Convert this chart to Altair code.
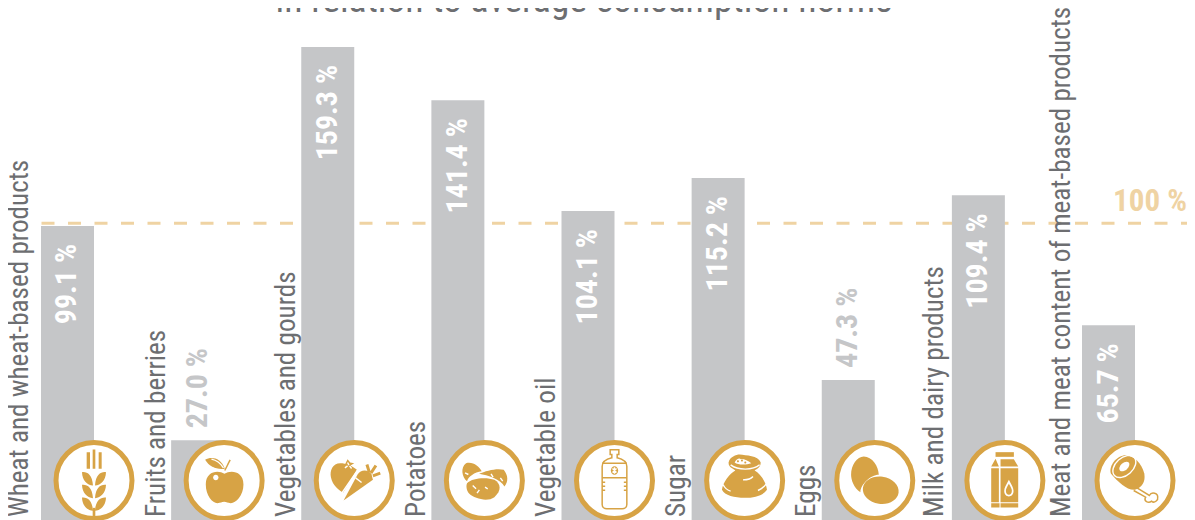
import re
import math
import altair as alt
import pandas as pd

# ---- data ----
CATEGORIES = ["Wheat and wheat-based products", "Fruits and berries", "Vegetables and gourds",
              "Potatoes", "Vegetable oil", "Sugar", "Eggs", "Milk and dairy products",
              "Meat and meat content of meat-based products"]
VALUES = [99.1, 27.0, 159.3, 141.4, 104.1, 115.2, 47.3, 109.4, 65.7]
TITLE = "in relation to average consumption norms"
NORM = 100
NORM_LABEL = "100 %"

GREY = "#c5c6c8"
TEXT = "#6d6e71"
GOLD = "#d7a345"
PALE = "#efd3a3"
FONT = "Roboto Condensed, Roboto"
W, H = 1179, 512

df = pd.DataFrame({"cat": CATEGORIES, "value": VALUES})
df["label"] = [f"{v:.1f} %" for v in VALUES]
ORDER = CATEGORIES

X = alt.X("cat:N", sort=ORDER, axis=None,
          scale=alt.Scale(range=[33, 1127], paddingInner=0.5927, paddingOuter=0))
X_EDGE = alt.X("cat:N", sort=ORDER, axis=None, bandPosition=1,
               scale=alt.Scale(range=[33, 1127], paddingInner=0.5927, paddingOuter=0))
Y_SCALE = alt.Scale(domain=[0, 172.4], range=[512.6, 0], nice=False)
Y = alt.Y("value:Q", axis=None, scale=Y_SCALE)


# ---- icon glyphs, written in 3x crop units and re-centred ----
def shift(path, cx, cy):
    def rep(m):
        return f"{float(m.group(1)) - cx:.1f},{float(m.group(2)) - cy:.1f}"
    return re.sub(r"(-?[\d.]+),(-?[\d.]+)", rep, path)


def ell(cx, cy, rx, ry, rot=0):
    k = 0.5523
    pts = [(rx, 0), (rx, k * ry), (k * rx, ry), (0, ry), (-k * rx, ry), (-rx, k * ry), (-rx, 0),
           (-rx, -k * ry), (-k * rx, -ry), (0, -ry), (k * rx, -ry), (rx, -k * ry), (rx, 0)]
    a = math.radians(rot)
    q = [(cx + x * math.cos(a) - y * math.sin(a), cy + x * math.sin(a) + y * math.cos(a)) for x, y in pts]
    s = f"M{q[0][0]:.1f},{q[0][1]:.1f}"
    for i in range(1, 13, 3):
        s += " C" + " ".join(f"{p[0]:.1f},{p[1]:.1f}" for p in q[i:i + 3])
    return s + " Z"


def rect(x1, y1, x2, y2):
    return f"M{x1},{y1} L{x2},{y1} L{x2},{y2} L{x1},{y2} Z"


def leaf_pair(dy):
    return (f"M247,{278+dy} C262,{276+dy} 278,{285+dy} 280,{318+dy} C262,{316+dy} 248,{303+dy} 247,{278+dy} Z "
            f"M319,{278+dy} C304,{276+dy} 288,{285+dy} 286,{318+dy} C304,{316+dy} 318,{303+dy} 319,{278+dy} Z")


F, FW, SW, SG, SGB = "fill", "white", "strokewhite", "strokegold", "strokegoldbold"
ICONS = [
    ((283, 303), [
        (F, rect(261, 218, 271, 268) + " " + rect(279, 210, 287, 268) + " " + rect(297, 218, 306, 268)),
        (F, leaf_pair(0) + " " + leaf_pair(38) + " " + leaf_pair(76)),
        (F, rect(279, 385, 287, 425)),
    ]),
    ((670, 300), [
        (F, "M671,280 C690,268 728,272 728,312 C728,345 705,368 690,368 C680,368 678,364 670,364 "
            "C662,364 660,368 650,368 C635,368 615,345 615,312 C615,272 652,268 671,280 Z"),
        (F, "M613,238 C630,228 660,230 672,265 C645,268 625,258 613,238 Z"),
        (SG, "M672,270 L688,238"),
        (FW, ell(645, 291, 8, 8)),
        (SW, "M632,236 C650,240 660,250 668,262"),
    ]),
    ((120, 120), [
        (F, "M78,68 C55,68 46,90 50,110 C55,135 75,150 87,156 L128,88 C115,76 95,68 78,68 Z"),
        (F, "M88,180 L130,102 C140,85 165,88 172,102 L176,118 Z"),
        (SGB, "M165,95 L158,72 M170,98 L185,75 M176,106 L198,98"),
        (SW, "M80,162 L136,80"),
        (SW, "M124,112 L142,126"),
        (F, "M100,56 L108,66 L120,68 L110,74 L108,92 L98,80 L84,84 L92,72 Z"),
        (SW, "M100,66 L104,74 M92,82 L100,76 M112,84 L106,76"),
    ]),
    ((120, 120), [
        (F, "M65,68 C85,62 105,78 112,92 C90,95 72,108 68,122 C52,110 48,80 65,68 Z"),
        (F, "M104,100 C125,90 160,82 178,88 C192,105 192,125 180,138 C170,118 130,104 104,100 Z"),
        (F, "M68,128 C85,110 130,110 150,118 C170,130 172,150 150,170 C130,185 90,175 75,160 C65,148 65,135 68,128 Z"),
        (SW, "M62,97 L72,102 M140,100 L146,110 M168,112 L175,122 M85,135 L95,145 M122,140 L130,145 M98,158 L105,148"),
    ]),
    ((120, 120), [
        (SG, "M107,28 L133,28 L133,42 L128,42 L128,52 C145,56 157,62 157,78 L157,192 C157,200 150,205 143,205 "
             "L97,205 C90,205 83,200 83,192 L83,78 C83,62 95,56 112,52 L112,42 L107,42 Z"),
        (SG, "M83,68 L157,68 M83,112 L157,112"),
        (F, ell(120, 90, 11, 13)),
        (SW, "M114,84 L126,96 M126,84 L114,96 M120,80 L120,100"),
        (SG, "M83,125 L92,125 M83,137 L92,137 M83,149 L92,149 M148,125 L157,125 M148,137 L157,137 M148,149 L157,149"),
    ]),
    ((120, 120), [
        (F, "M72,65 C75,50 95,42 105,42 C125,45 160,45 168,65 C170,82 150,88 150,90 C168,100 185,125 187,148 "
            "C175,165 150,172 120,172 C90,172 60,165 52,148 C55,125 75,100 92,90 C90,85 70,82 72,65 Z"),
        (SW, "M78,73 C100,90 145,90 165,73"),
        (FW, "M90,66 C95,55 105,52 108,56 C115,54 130,60 140,68 C125,74 100,74 90,66 Z"),
        (F, ell(100, 62, 3, 3) + " " + ell(112, 60, 3, 3) + " " + ell(122, 66, 3, 3)),
        (SW, "M115,118 C130,118 140,115 145,108 M55,132 C62,145 70,150 78,152 M160,150 C170,145 178,140 185,130"),
    ]),
    ((238, 297), [
        (F, "M205,225 C230,225 250,255 250,280 C225,280 195,310 195,332 C175,320 167,295 167,280 C167,250 185,225 205,225 Z"),
        (F, ell(256, 326, 54, 41, 8)),
    ]),
    ((628, 297), [
        (F, rect(600, 212, 655, 226)),
        (F, "M600,232 L610,255 L587,255 Z M615,233 L655,233 L668,255 L615,255 Z"),
        (F, rect(587, 260, 610, 362) + " " + rect(615, 260, 668, 362)),
        (F, rect(587, 365, 612, 378) + " " + rect(615, 365, 668, 378)),
        (FW, "M640,295 C632,310 626,320 626,328 C626,340 633,345 640,345 C647,345 654,340 654,328 C654,320 648,310 640,295 Z"),
        (F, "M640,307 C635,316 631,322 631,328 C631,336 635,340 640,340 C645,340 649,336 649,328 C649,322 645,316 640,307 Z"),
    ]),
    ((120, 120), [
        (FW, "M126,142 L163,165 C170,152 190,158 188,172 C190,178 178,190 170,182 C160,190 145,182 152,170 L116,150 Z"),
        (SG, "M126,142 L163,165 C170,152 190,158 188,172 C190,178 178,190 170,182 C160,190 145,182 152,170 L116,150"),
        (F, "M85,45 C110,40 140,65 148,100 C152,125 140,142 120,148 C95,150 70,125 48,100 C40,80 60,50 85,45 Z"),
        (SW, ell(88, 78, 40, 26, -42)),
        (FW, ell(88, 78, 18, 11, -42)),
    ]),
]

# ---- layers ----
layers = []

layers.append(alt.Chart(pd.DataFrame({"n": [NORM]})).mark_rule(
    color=PALE, strokeWidth=3, strokeDash=[13, 13.5]).encode(
    x=alt.value(33.5), x2=alt.value(1179), y=alt.Y("n:Q", axis=None, scale=Y_SCALE)))

layers.append(alt.Chart(df).mark_bar(color=GREY, opacity=1).encode(
    x=X, y=Y, y2=alt.value(H)))

# category labels: each sits a little to the left of its bar
for cats, dy in ((CATEGORIES[:1] + CATEGORIES[-1:], -39),
                 (CATEGORIES[7:8], -35.5),
                 (CATEGORIES[1:7], -33)):
    sub = df[df["cat"].isin(cats)]
    layers.append(alt.Chart(sub).mark_text(
        angle=270, align="left", baseline="alphabetic", font=FONT, fontSize=27.2, color=TEXT, dy=dy).encode(
        x=X, y=alt.value(509), text="cat:N"))

inside = df[df["value"] >= 60]
outside = df[df["value"] < 60]
layers.append(alt.Chart(inside).mark_text(
    angle=270, align="right", baseline="middle", font=FONT, fontSize=30, fontWeight="bold",
    color="white", dx=-18).encode(x=X, y=Y, text="label:N"))
layers.append(alt.Chart(outside).mark_text(
    angle=270, align="left", baseline="middle", font=FONT, fontSize=30, fontWeight="bold",
    color=GREY, dx=12).encode(x=X, y=Y, text="label:N"))

layers.append(alt.Chart(df).mark_circle(
    size=76 ** 2, fill="white", stroke=GOLD, strokeWidth=5, opacity=1).encode(
    x=X_EDGE, y=alt.value(472.5)))

STYLE = {
    F: dict(filled=True, color=GOLD, strokeWidth=0),
    FW: dict(filled=True, color="white", strokeWidth=0),
    SW: dict(filled=False, color="white", strokeWidth=1.4),
    SG: dict(filled=False, color=GOLD, strokeWidth=1.5),
    SGB: dict(filled=False, color=GOLD, strokeWidth=3),
}
for (cat, (centre, parts)) in zip(CATEGORIES, ICONS):
    row = df[df["cat"] == cat]
    for kind, path in parts:
        mk = alt.Chart(row).mark_point(shape=shift(path, *centre), size=4 / 9, opacity=1, **STYLE[kind])
        layers.append(mk.encode(x=X_EDGE, y=alt.value(472.5)))

layers.append(alt.Chart(pd.DataFrame({"t": [TITLE]})).mark_text(
    align="center", baseline="alphabetic", font=FONT, fontSize=37.7, color=TEXT).encode(
    x=alt.value(576), y=alt.value(4), text="t:N"))

layers.append(alt.Chart(pd.DataFrame({"t": [NORM_LABEL]})).mark_text(
    align="right", baseline="alphabetic", font=FONT, fontSize=31, fontWeight="bold", color=PALE).encode(
    x=alt.value(1179), y=alt.value(203), text="t:N"))

chart = alt.layer(*layers).properties(
    width=W, height=H, autosize="none", padding=0
).configure_view(stroke=None)

chart.save("out.html", embed_options={"renderer": "svg", "actions": False})
